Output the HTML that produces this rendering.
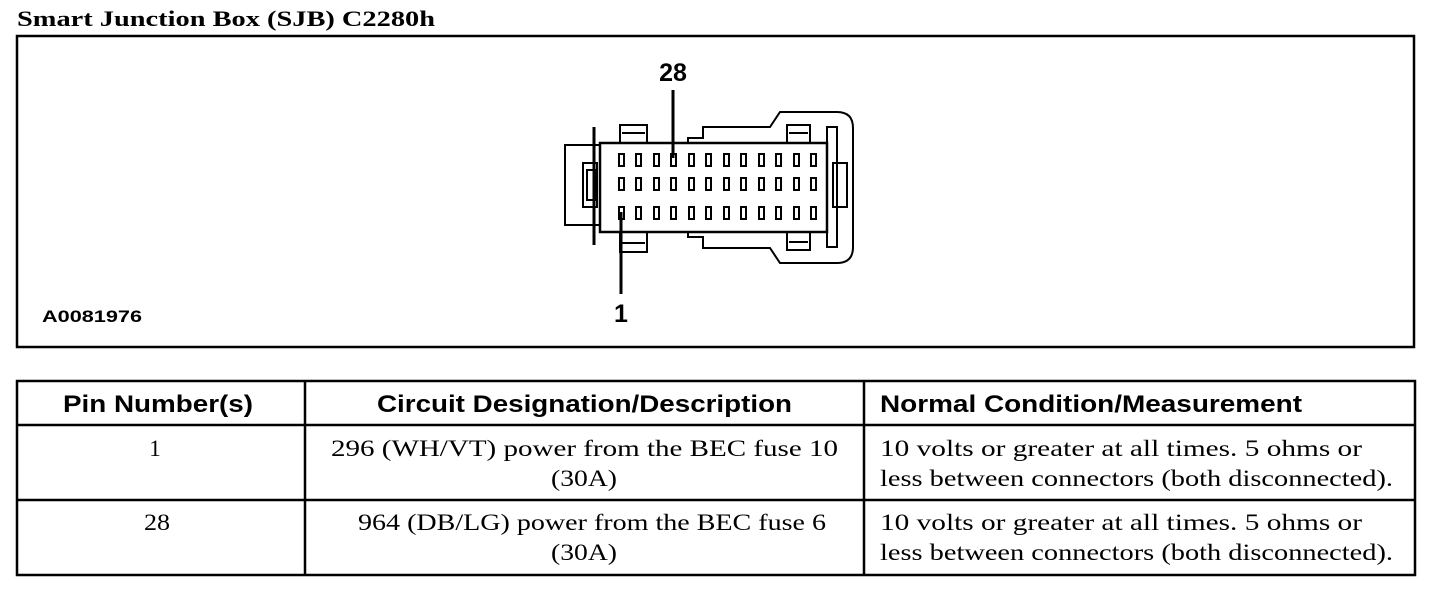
<!DOCTYPE html>
<html><head><meta charset="utf-8"><style>
body{margin:0;background:#fff;width:1440px;height:590px;overflow:hidden}
svg{display:block}
.s{font-family:"Liberation Sans",sans-serif;font-weight:bold}
.r{font-family:"Liberation Serif",serif}
</style></head><body>
<svg width="1440" height="590" viewBox="0 0 1440 590" xmlns="http://www.w3.org/2000/svg">
<text x="17" y="26" class="r" font-weight="bold" font-size="22" textLength="418" lengthAdjust="spacingAndGlyphs">Smart Junction Box (SJB) C2280h</text>
<rect x="17" y="36" width="1397" height="311" fill="none" stroke="#000" stroke-width="2.5"/>
<g fill="none" stroke="#000" stroke-width="2">
<path d="M688,143 L688,138 L703,138 L703,127 L770,127 L780,112 L837,112 Q853,112 853,128 L853,247 Q853,263 837,263 L780,263 L770,248 L703,248 L703,237 L688,237 L688,232"/>
<rect x="600" y="143" width="227" height="89" stroke-width="2.5"/>
<rect x="565" y="145" width="35" height="80"/>
<line x1="594" y1="127" x2="594" y2="245" stroke-width="3"/>
<rect x="583" y="163" width="14" height="44"/>
<rect x="587" y="170" width="8" height="30"/>
<rect x="620" y="125" width="27" height="18"/>
<line x1="622" y1="133" x2="645" y2="133"/>
<rect x="620" y="232" width="27" height="20"/>
<line x1="622" y1="243" x2="645" y2="243"/>
<rect x="787" y="125" width="23" height="18"/>
<line x1="789" y1="133" x2="808" y2="133"/>
<rect x="787" y="232" width="23" height="18"/>
<line x1="789" y1="242" x2="808" y2="242"/>
<rect x="827" y="127" width="10" height="120"/>
<rect x="833" y="163" width="14" height="44"/>
</g>
<g fill="#fff" stroke="#000" stroke-width="2">
<rect x="619" y="154" width="5" height="12"/><rect x="636" y="154" width="5" height="12"/><rect x="654" y="154" width="5" height="12"/><rect x="671" y="154" width="5" height="12"/><rect x="689" y="154" width="5" height="12"/><rect x="706" y="154" width="5" height="12"/><rect x="724" y="154" width="5" height="12"/><rect x="741" y="154" width="5" height="12"/><rect x="759" y="154" width="5" height="12"/><rect x="776" y="154" width="5" height="12"/><rect x="794" y="154" width="5" height="12"/><rect x="811" y="154" width="5" height="12"/>
<rect x="619" y="178" width="5" height="12"/><rect x="636" y="178" width="5" height="12"/><rect x="654" y="178" width="5" height="12"/><rect x="671" y="178" width="5" height="12"/><rect x="689" y="178" width="5" height="12"/><rect x="706" y="178" width="5" height="12"/><rect x="724" y="178" width="5" height="12"/><rect x="741" y="178" width="5" height="12"/><rect x="759" y="178" width="5" height="12"/><rect x="776" y="178" width="5" height="12"/><rect x="794" y="178" width="5" height="12"/><rect x="811" y="178" width="5" height="12"/>
<rect x="619" y="207" width="5" height="12"/><rect x="636" y="207" width="5" height="12"/><rect x="654" y="207" width="5" height="12"/><rect x="671" y="207" width="5" height="12"/><rect x="689" y="207" width="5" height="12"/><rect x="706" y="207" width="5" height="12"/><rect x="724" y="207" width="5" height="12"/><rect x="741" y="207" width="5" height="12"/><rect x="759" y="207" width="5" height="12"/><rect x="776" y="207" width="5" height="12"/><rect x="794" y="207" width="5" height="12"/><rect x="811" y="207" width="5" height="12"/>
</g>
<line x1="673" y1="90" x2="673" y2="158" stroke="#000" stroke-width="3"/>
<line x1="621" y1="212" x2="621" y2="294" stroke="#000" stroke-width="3"/>
<text x="673" y="81" class="s" font-size="25" text-anchor="middle">28</text>
<text x="621" y="322" class="s" font-size="25" text-anchor="middle">1</text>
<text x="42" y="322" class="s" font-size="17" textLength="100" lengthAdjust="spacingAndGlyphs">A0081976</text>
<g stroke="#000" stroke-width="2.5" fill="none">
<rect x="17" y="381" width="1398" height="194"/>
<line x1="17" y1="425" x2="1415" y2="425"/>
<line x1="17" y1="500" x2="1415" y2="500"/>
<line x1="305" y1="381" x2="305" y2="575"/>
<line x1="864" y1="381" x2="864" y2="575"/>
</g>
<g class="s" font-size="24">
<text x="63" y="412" textLength="190" lengthAdjust="spacingAndGlyphs">Pin Number(s)</text>
<text x="377" y="412" textLength="415" lengthAdjust="spacingAndGlyphs">Circuit Designation/Description</text>
<text x="880" y="412" textLength="422" lengthAdjust="spacingAndGlyphs">Normal Condition/Measurement</text>
</g>
<g class="r" font-size="23">
<text x="155" y="456" text-anchor="middle">1</text>
<text x="331" y="456" textLength="507" lengthAdjust="spacingAndGlyphs">296 (WH/VT) power from the BEC fuse 10</text>
<text x="551" y="486" textLength="66" lengthAdjust="spacingAndGlyphs">(30A)</text>
<text x="880" y="456" textLength="482" lengthAdjust="spacingAndGlyphs">10 volts or greater at all times. 5 ohms or</text>
<text x="880" y="486" textLength="513" lengthAdjust="spacingAndGlyphs">less between connectors (both disconnected).</text>
<text x="144" y="530" textLength="26" lengthAdjust="spacingAndGlyphs">28</text>
<text x="358" y="530" textLength="468" lengthAdjust="spacingAndGlyphs">964 (DB/LG) power from the BEC fuse 6</text>
<text x="551" y="560" textLength="66" lengthAdjust="spacingAndGlyphs">(30A)</text>
<text x="880" y="530" textLength="482" lengthAdjust="spacingAndGlyphs">10 volts or greater at all times. 5 ohms or</text>
<text x="880" y="560" textLength="513" lengthAdjust="spacingAndGlyphs">less between connectors (both disconnected).</text>
</g>
</svg>
</body></html>
